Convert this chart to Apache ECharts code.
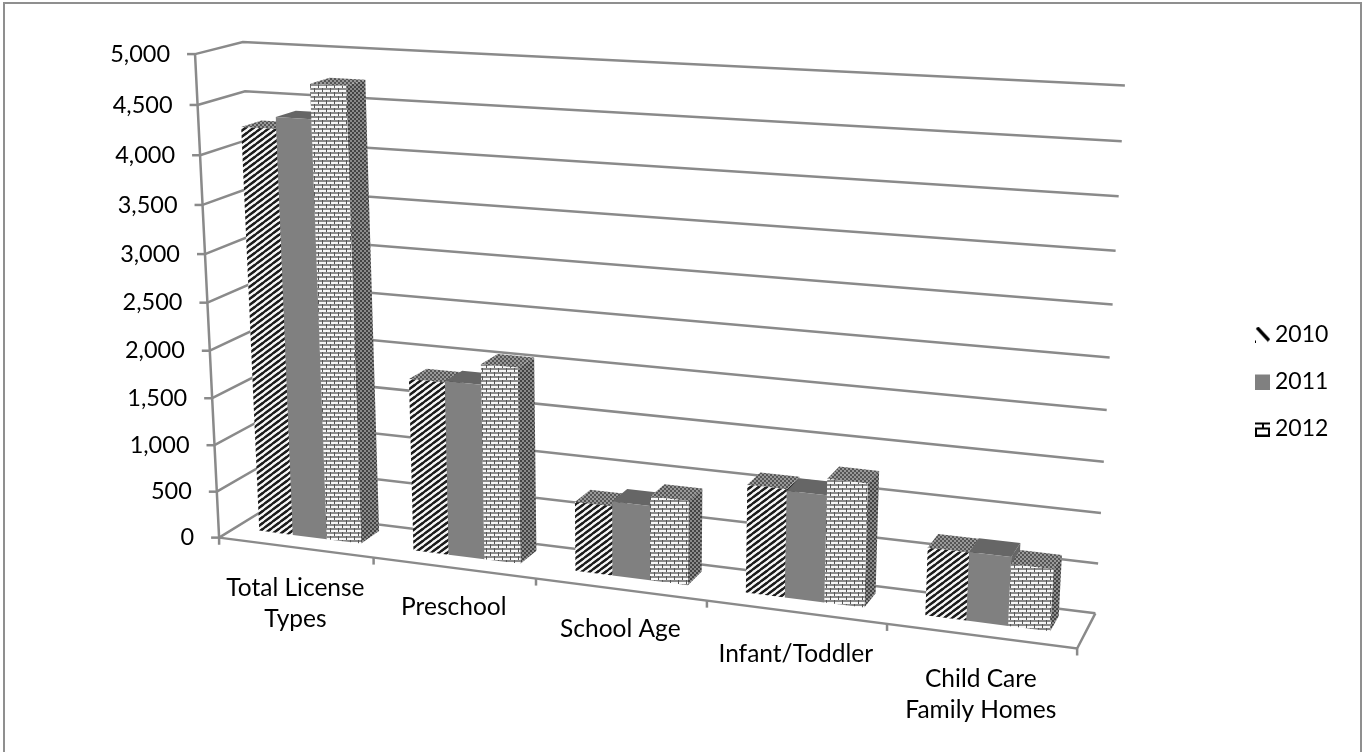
<!DOCTYPE html>
<html><head><meta charset="utf-8">
<style>html,body{margin:0;padding:0;background:#fff}#c{width:1362px;height:752px}</style>
<script src="https://cdn.jsdelivr.net/npm/echarts@6/dist/echarts.min.js"></script>
</head><body><div id="c"></div>
<script>
const categories = ['Total License\nTypes', 'Preschool', 'School Age', 'Infant/Toddler', 'Child Care\nFamily Homes'];
const seriesNames = ['2010', '2011', '2012'];
const values2010 = [4245, 1810, 720, 1095, 675];
const values2011 = [4365, 1825, 770, 1080, 680];
const values2012 = [4715, 2035, 865, 1240, 610];
const tickValues = [0, 500, 1000, 1500, 2000, 2500, 3000, 3500, 4000, 4500, 5000];
const tickLabels = ['0', '500', '1,000', '1,500', '2,000', '2,500', '3,000', '3,500', '4,000', '4,500', '5,000'];

// 3D view of the chart box: unit cube (across, value, depth) -> page, fitted from the box's edges
const VIEW_FIT = [
  [0,0,0,220,537],[1,0,0,1076,650],[0,1,0,195,53],[0,0,1,262,508],[1,0,1,1097,610],[0,1,1,243,41],[1,1,1,1124,87],
  [.2,0,0,374,558],[.4,0,0,537,578],[.6,0,0,707,603],[.8,0,0,885,626],[0,.5,0,208,299],[1,.5,1,1111,355],[0,.5,1,253,290]
];
function fitView(pts){
  const n=11, A=Array.from({length:n},()=>new Array(n+1).fill(0));
  const add=(r,b)=>{for(let i=0;i<n;i++){for(let j=0;j<n;j++)A[i][j]+=r[i]*r[j];A[i][n]+=r[i]*b;}};
  pts.forEach(([x,y,z,px,py])=>{
    add([x,y,z,1,0,0,0,0,-px*x,-px*y,-px*z],px);
    add([0,0,0,0,x,y,z,1,-py*x,-py*y,-py*z],py);
  });
  for(let c=0;c<n;c++){
    let p=c;for(let r=c+1;r<n;r++)if(Math.abs(A[r][c])>Math.abs(A[p][c]))p=r;
    [A[c],A[p]]=[A[p],A[c]];
    for(let r=0;r<n;r++){if(r===c)continue;const f=A[r][c]/A[c][c];for(let k=c;k<=n;k++)A[r][k]-=f*A[c][k];}
  }
  return A.map((row,i)=>row[n]/row[i]);
}
const M=fitView(VIEW_FIT);
function project(u,v,d){
  const w=M[8]*u+M[9]*v+M[10]*d+1;
  return [(M[0]*u+M[1]*v+M[2]*d+M[3])/w,(M[4]*u+M[5]*v+M[6]*d+M[7])/w];
}
function toUnit(params,api,cat,val,off){
  const c=api.coord([cat,val]), s=params.coordSys, bw=api.size([1,0])[0];
  return [(c[0]+(off||0)*bw-s.x)/s.width,(s.y+s.height-c[1])/s.height];
}

// fill patterns
function tile(w,h,bg,draw){
  const t=document.createElement('canvas');t.width=w;t.height=h;
  const g=t.getContext('2d');g.fillStyle=bg;g.fillRect(0,0,w,h);draw(g);
  return {image:t,repeat:'repeat'};
}
function stripes(bg,fg){
  return tile(8,6,bg,g=>{g.strokeStyle=fg;g.lineWidth=2.2;
    [[-8,6,8,-6],[0,6,8,0],[0,12,16,0],[-8,12,8,0]].forEach(l=>{g.beginPath();g.moveTo(l[0],l[1]);g.lineTo(l[2],l[3]);g.stroke();});
  });
}
function bricks(bg,fg,dark){
  return tile(8,8,bg,g=>{g.fillStyle=fg;
    g.fillRect(0,0,8,2);g.fillRect(0,4,8,2);
    g.fillStyle=dark;g.fillRect(2,0,1,4);g.fillRect(6,4,1,4);
  });
}
function checks(bg,fg){
  return tile(4,4,bg,g=>{g.fillStyle=fg;g.fillRect(0,0,2,2);g.fillRect(2,2,2,2);});
}
const FACES=[
  {front:stripes('#f6f6f6','#1c1c1c'),top:checks('#999999','#555555'),side:stripes('#777777','#222222')},
  {front:'#808080',top:'#666666',side:'#666666'},
  {front:bricks('#f8f8f8','#8a8a8a','#555555'),top:checks('#999999','#555555'),side:checks('#8c8c8c','#444444')}
];
const BAR_W=.222, GROUP_W=BAR_W*3, GROUP_SHIFT=-.008, D0=.36, D1=.8;
const LABEL_DROP=[25,24,24,26,28];

function iconUrl(draw){
  const t=document.createElement('canvas');t.width=16;t.height=16;
  const g=t.getContext('2d');draw(g);return t.toDataURL();
}
const legendIcons=[
  iconUrl(g=>{g.strokeStyle='#000';g.lineWidth=3.4;g.beginPath();g.moveTo(3,1);g.lineTo(15,14);g.stroke();g.fillStyle='#000';g.fillRect(1,14,1,2);}),
  iconUrl(g=>{g.fillStyle='#808080';g.fillRect(1,1,15,15);}),
  iconUrl(g=>{g.fillStyle='#000';g.fillRect(1,2,15,2);g.fillRect(8,2,2,6);g.fillRect(1,7,15,2);g.fillRect(1,7,2,9);g.fillRect(14,7,2,9);g.fillRect(1,14,15,2);})
];

function barRender(si){
  return function(params,api){
    const cat=api.value(0), val=api.value(1);
    const off=-GROUP_W/2+si*BAR_W+GROUP_SHIFT;
    const [u0,v]=toUnit(params,api,cat,val,off);
    const [u1]=toUnit(params,api,cat,val,off+BAR_W);
    const a=project(u0,0,D0),b=project(u1,0,D0),c=project(u1,v,D0),d=project(u0,v,D0);
    const e=project(u1,0,D1),f=project(u1,v,D1),g=project(u0,v,D1);
    const F=FACES[si];
    return {type:'group',children:[
      {type:'polygon',shape:{points:[b,e,f,c]},style:{fill:F.side}},
      {type:'polygon',shape:{points:[d,c,f,g]},style:{fill:F.top}},
      {type:'polygon',shape:{points:[a,b,c,d]},style:{fill:F.front}}
    ]};
  };
}
const LINE={stroke:'#8a8a8a',lineWidth:2.5,fill:null};
function wallRender(params,api){
  const val=api.value(1);
  const [,v]=toUnit(params,api,0,val,0);
  const a=project(0,v,0);
  return {type:'group',children:[
    {type:'polyline',shape:{points:[a,project(0,v,1),project(1,v,1)]},style:LINE},
    {type:'line',shape:{x1:a[0]-8,y1:a[1],x2:a[0],y2:a[1]},style:LINE},
    {type:'text',x:a[0]-25,y:a[1],style:{text:tickLabels[params.dataIndex],font:'23.5px Lato',fill:'#000',align:'right',verticalAlign:'middle'}}
  ]};
}
function floorRender(params,api){
  const cat=api.value(0);
  const [uc]=toUnit(params,api,cat,0,0);
  const [ue]=toUnit(params,api,cat,0,.5);
  const p=project(uc,0,0), t=project(ue,0,0);
  const kids=[
    {type:'line',shape:{x1:t[0],y1:t[1],x2:t[0],y2:t[1]+7},style:LINE},
    {type:'text',x:p[0],y:p[1]+LABEL_DROP[cat],style:{text:categories[cat],font:'24.5px Lato',lineHeight:31,fill:'#000',align:'center',verticalAlign:'top'}}
  ];
  if(cat===0){
    const o=project(0,0,0),r=project(1,0,0),rb=project(1,0,1),top=project(0,1,0);
    kids.push({type:'polyline',shape:{points:[top,o,[o[0],o[1]+7]]},style:LINE});
    kids.push({type:'polyline',shape:{points:[o,r,rb]},style:LINE});
  }
  return {type:'group',children:kids};
}

const chart=echarts.init(document.getElementById('c'));
const seriesValues=[values2010,values2011,values2012];
chart.setOption({
  animation:false,
  backgroundColor:'#ffffff',
  grid:{left:100,top:100,width:1000,height:500},
  xAxis:{type:'category',data:categories,show:false},
  yAxis:{type:'value',min:0,max:5000,interval:500,show:false},
  legend:{orient:'vertical',left:1254,top:323,padding:0,itemWidth:16,itemHeight:16,itemGap:24,selectedMode:false,
    textStyle:{fontFamily:'Lato',fontSize:23,color:'#000'},
    data:seriesNames.map((n,i)=>({name:n,icon:'image://'+legendIcons[i]}))},
  graphic:[{type:'rect',shape:{x:4,y:3,width:1357,height:760},style:{fill:null,stroke:'#8f8f8f',lineWidth:2},silent:true}],
  series:[
    {type:'custom',name:'walls',renderItem:wallRender,data:tickValues.map(v=>[0,v]),encode:{x:0,y:1},silent:true,z:1},
    {type:'custom',name:'floor',renderItem:floorRender,data:categories.map((c,i)=>[i,0]),encode:{x:0,y:1},silent:true,z:1}
  ].concat(seriesNames.map((n,si)=>({
    type:'custom',name:n,renderItem:barRender(si),
    data:seriesValues[si].map((v,i)=>[i,v]),encode:{x:0,y:1},z:2,
    itemStyle:{color:'#808080'}
  })))
});
</script></body></html>
